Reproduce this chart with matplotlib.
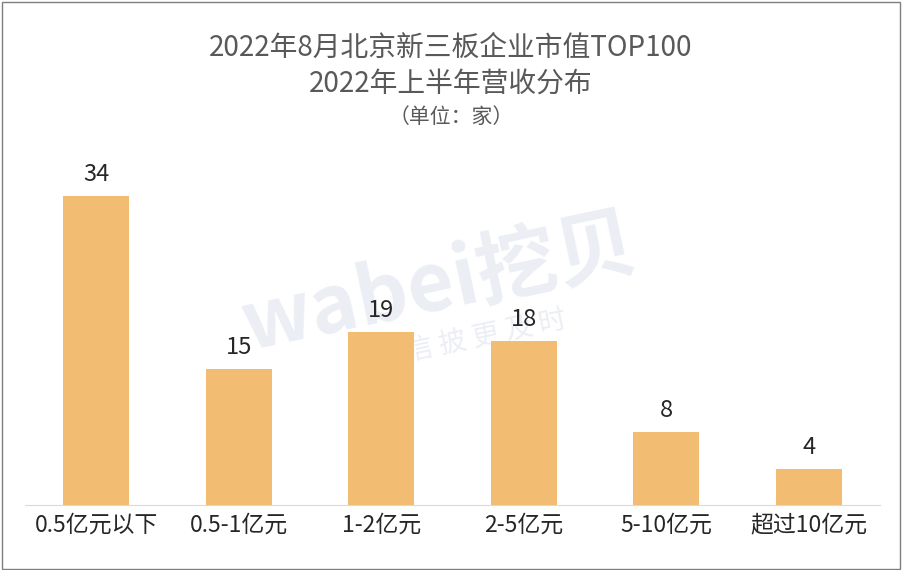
import matplotlib
matplotlib.use("Agg")
import matplotlib.pyplot as plt
from matplotlib.patches import Rectangle

plt.rcParams['font.family'] = ['Noto Sans CJK SC', 'DejaVu Sans']

categories = ["0.5亿元以下", "0.5-1亿元", "1-2亿元", "2-5亿元", "5-10亿元", "超过10亿元"]
values = [34, 15, 19, 18, 8, 4]
title_lines = ["2022年8月北京新三板企业市值TOP100", "2022年上半年营收分布", "（单位：家）"]

W, H = 902, 570
fig = plt.figure(figsize=(W/100, H/100), dpi=100)
fig.patches.append(Rectangle((0.002, 0.002), 0.996, 0.995, transform=fig.transFigure,
                             fill=False, edgecolor='#7f7f7f', linewidth=1))
ax = fig.add_axes([25/W, 1-505/H, 855/W, 365/H])
x = range(len(categories))
ax.bar(x, values, width=0.46, color='#F2BC72', zorder=2)
ax.set_xlim(-0.5, len(categories)-0.5)
ax.set_ylim(0, 365/ (309/34))
for i, v in zip(x, values):
    ax.text(i, v + 1.1, str(v), ha='center', va='bottom', fontsize=17, color='#262626',
            fontweight='medium', zorder=3)
ax.set_xticks(list(x))
ax.set_xticklabels(categories, fontsize=16.5, color='#262626', fontweight='medium')
ax.tick_params(axis='x', length=0, pad=6)
ax.set_yticks([])
for s in ['top', 'right', 'left']:
    ax.spines[s].set_visible(False)
ax.spines['bottom'].set_color('#d9d9d9')

fig.text(0.5, 1-48/H, title_lines[0], ha='center', va='center', fontsize=20, color='#595959', fontweight='medium')
fig.text(0.5, 1-84/H, title_lines[1], ha='center', va='center', fontsize=20, color='#595959', fontweight='medium')
fig.text(0.5, 1-117/H, title_lines[2], ha='center', va='center', fontsize=15, color='#595959', fontweight='medium')

# watermark (behind bars)
ax.text(440/W, 1-285/H, "wabei挖贝", transform=fig.transFigure, ha='center', va='center',
        fontsize=58, fontweight='bold', color='#dfe3ee', alpha=0.6, rotation=12, zorder=0.5, clip_on=False)
ax.text(470/W, 1-340/H, "让 信 披 更 及 时", transform=fig.transFigure, ha='center', va='center',
        fontsize=20, color='#dfe3ee', alpha=0.6, rotation=12, zorder=0.5, clip_on=False)

fig.savefig("out.png", dpi=100)
